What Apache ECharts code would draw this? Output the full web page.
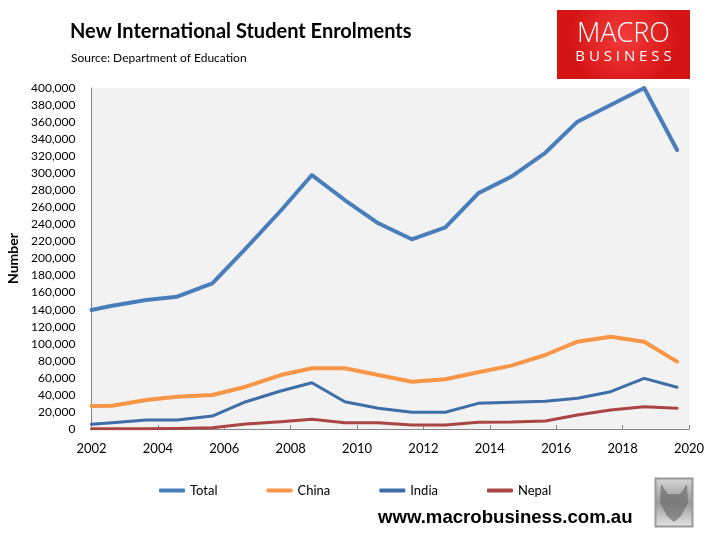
<!DOCTYPE html>
<html>
  <head>
    <meta charset="utf-8" />
    <title>New International Student Enrolments</title>
    <script src="https://cdn.jsdelivr.net/npm/echarts@6/dist/echarts.min.js"></script>
    <style>
      html, body { margin: 0; padding: 0; background: #fff; }
    </style>
  </head>
  <body>
    <div id="main" style="width: 722px;height:539px;"></div>
    <script type="text/javascript">
      // x positions (decimal years) of each observation
      var years = [2002.0, 2002.62, 2003.65, 2004.58, 2005.64, 2006.65, 2007.7, 2008.64, 2009.63, 2010.64,
                   2011.65, 2012.66, 2013.65, 2014.65, 2015.67, 2016.64, 2017.64, 2018.65, 2019.64];

      var total = [139600, 144600, 151300, 155200, 170900, 212000, 256000, 297900, 268600, 241300,
                   222500, 236600, 276500, 296000, 324000, 360500, 380000, 400000, 327300];
      var china = [27000, 27300, 34000, 37900, 39900, 49600, 63300, 71200, 71200, 63300,
                   55500, 58300, 66500, 74300, 86800, 102400, 108300, 102400, 79000];
      var india = [5500, 7400, 10600, 10600, 15200, 32000, 44600, 54300, 32000, 24300,
                   19600, 19600, 30100, 31300, 32500, 36000, 43800, 59400, 48900];
      var nepal = [300, 300, 400, 500, 1500, 5900, 8600, 11300, 7400, 7400,
                   4700, 4700, 7800, 8100, 9400, 16400, 22300, 26200, 24300];

      var seriesNames = ["Total", "China", "India", "Nepal"];
      var seriesColors = ["#4A7EBB", "#F79646", "#3F6DA8", "#A94542"];
      var seriesWidths = [4, 4, 3, 3];
      var seriesData = [total, china, india, nepal];

      var myChart = echarts.init(document.getElementById("main"));

      function pairs(vals) {
        return years.map(function (y, i) { return [y, vals[i]]; });
      }

      var font = "Lato, 'Open Sans', sans-serif";

      var option = {
        backgroundColor: "#fff",
        animation: false,
        textStyle: { fontFamily: font },
        title: [
          {
            text: "New International Student Enrolments",
            left: 70,
            top: 22,
            padding: 0,
            textStyle: { fontFamily: font, fontSize: 20, fontWeight: "bold", color: "#000" }
          },
          {
            text: "Source: Department of Education",
            left: 71,
            top: 52,
            padding: 0,
            textStyle: { fontFamily: font, fontSize: 12, fontWeight: "normal", color: "#000" }
          }
        ],
        legend: {
          left: 159,
          top: 484,
          padding: 0,
          itemWidth: 26,
          itemHeight: 4,
          itemGap: 49,
          icon: "roundRect",
          textStyle: { fontFamily: font, fontSize: 13, color: "#000" },
          data: seriesNames
        },
        grid: {
          left: 91.5,
          right: 33,
          top: 88,
          bottom: 110,
          outerBoundsMode: "none",
          containLabel: false,
          show: true,
          backgroundColor: "#F2F2F2",
          borderWidth: 0
        },
        xAxis: {
          type: "value",
          min: 2002,
          max: 2020,
          interval: 2,
          axisLine: { show: true, onZero: false, lineStyle: { color: "#868686", width: 1 } },
          axisTick: { show: true, inside: true, length: 4, lineStyle: { color: "#868686" } },
          splitLine: { show: false },
          axisLabel: {
            color: "#000",
            fontSize: 13,
            margin: 13,
            fontFamily: font,
            formatter: function (v) { return String(v); }
          }
        },
        yAxis: {
          type: "value",
          min: 0,
          max: 400000,
          interval: 20000,
          name: "Number",
          nameLocation: "middle",
          nameGap: 71,
          nameTextStyle: { fontFamily: font, fontSize: 14, fontWeight: "bold", color: "#000" },
          axisLine: { show: true, lineStyle: { color: "#868686", width: 1 } },
          axisTick: { show: false },
          splitLine: { show: false },
          axisLabel: {
            color: "#000",
            fontSize: 12,
            margin: 16,
            fontFamily: font,
            formatter: function (v) { return v.toLocaleString("en-US"); }
          }
        },
        series: seriesNames.map(function (name, i) {
          return {
            name: name,
            type: "line",
            data: pairs(seriesData[i]),
            showSymbol: false,
            symbol: "none",
            color: seriesColors[i],
            lineStyle: { width: seriesWidths[i], color: seriesColors[i], cap: "round", join: "round" },
            z: 10 - i
          };
        }),
        graphic: [
          {
            type: "rect",
            shape: { x: 557, y: 10, width: 133, height: 69 },
            style: {
              fill: new echarts.graphic.RadialGradient(0.5, 0.4, 0.8, [
                { offset: 0, color: "#F43A3A" },
                { offset: 1, color: "#D41414" }
              ])
            }
          },
          {
            type: "text",
            x: 623.5,
            y: 34,
            style: {
              text: "MACRO",
              fill: "#fff",
              font: "300 27px 'Open Sans', Lato, sans-serif",
              align: "center",
              verticalAlign: "middle"
            }
          },
          {
            type: "text",
            x: 623.5,
            y: 57,
            style: {
              text: "B U S I N E S S",
              fill: "#fff",
              font: "400 15px 'Open Sans', Lato, sans-serif",
              align: "center",
              verticalAlign: "middle"
            }
          },
          {
            type: "text",
            x: 378,
            y: 518,
            style: {
              text: "www.macrobusiness.com.au",
              fill: "#000",
              font: "bold 18.6px 'Liberation Sans', Arial, sans-serif",
              align: "left",
              verticalAlign: "middle"
            }
          },
          {
            type: "rect",
            shape: { x: 655.5, y: 478.5, width: 37, height: 48 },
            style: {
              fill: new echarts.graphic.LinearGradient(0, 0, 0, 1, [
                { offset: 0, color: "#D8D8D8" },
                { offset: 0.5, color: "#9A9A9A" },
                { offset: 1, color: "#E6E6E6" }
              ]),
              stroke: "#999",
              lineWidth: 2
            }
          },
          {
            type: "polygon",
            shape: {
              points: [[661, 484], [668, 494], [680, 494], [687, 484], [688, 503], [681, 516], [674, 522], [667, 516], [660, 503]]
            },
            style: { fill: "#6E6E6E", opacity: 0.7 }
          }
        ]
      };

      myChart.setOption(option);
    </script>
  </body>
</html>
